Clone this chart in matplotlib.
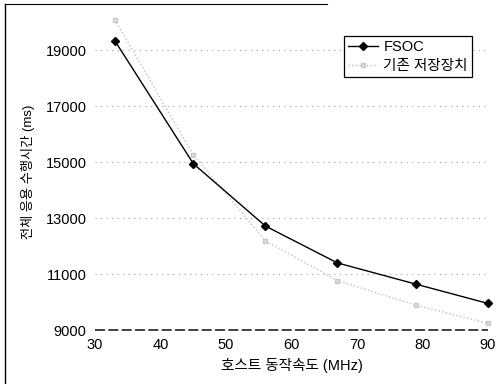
import matplotlib.pyplot as plt
from matplotlib.lines import Line2D

plt.rcParams['font.family'] = ['Liberation Sans', 'Noto Sans CJK KR', 'DejaVu Sans']

# 호스트 동작속도 (MHz)
speeds = [33, 45, 56, 67, 79, 90]
# 전체 응용 수행시간 (ms)
fsoc = [19350, 14950, 12720, 11400, 10640, 9950]
legacy = [20100, 15270, 12190, 10770, 9890, 9240]

yticks = [9000, 11000, 13000, 15000, 17000, 19000]
xticks = [30, 40, 50, 60, 70, 80, 90]

fig = plt.figure(figsize=(5.03, 3.84), dpi=100)
ax = fig.add_axes([0.189, 0.1406, 0.781, 0.823])

ax.plot(speeds, legacy, color='#c0c0c0', linestyle=':', linewidth=1.0,
        marker='s', markersize=3, markerfacecolor='#dcdcdc',
        markeredgecolor='#c8c8c8', label='기존 저장장치', zorder=2,
        clip_on=False)
ax.plot(speeds, fsoc, color='black', linewidth=1.0, marker='D',
        markersize=4.5, label='FSOC', zorder=3, clip_on=False)

ax.set_xlim(30, 90)
ax.set_ylim(9000, 20300)
ax.set_xticks(xticks)
ax.set_yticks(yticks)
ax.tick_params(length=0, labelsize=10.5, pad=6)

for y in yticks[1:]:
    ax.axhline(y, color='#a0a0a0', linestyle=(0, (1, 4)), linewidth=0.8, zorder=1)
ax.axhline(9000, color='#202020', linestyle=(0, (6, 2)), linewidth=1.2,
           zorder=1, clip_on=False)
ax.axvline(90, color='#a0a0a0', linestyle=(0, (1, 6)), linewidth=0.8, zorder=1)

for s in ax.spines.values():
    s.set_visible(False)

ax.set_xlabel('호스트 동작속도 (MHz)', fontsize=10.5, labelpad=4)
ax.set_ylabel('전체 응용 수행시간 (ms)', fontsize=9.5, labelpad=8)

handles, labels = ax.get_legend_handles_labels()
leg = ax.legend(handles[::-1], labels[::-1], loc='upper right',
                bbox_to_anchor=(0.96, 0.93), fontsize=10.5, frameon=True,
                fancybox=False, edgecolor='black', framealpha=1,
                handlelength=2.0, borderpad=0.3, labelspacing=0.3,
                handletextpad=0.4, borderaxespad=0)
leg.get_frame().set_linewidth(0.9)

# scanned page border (left and top)
fig.add_artist(Line2D([0.01, 0.01], [0.0, 0.99], color='black', linewidth=1.0))
fig.add_artist(Line2D([0.01, 0.65], [0.99, 0.99], color='black', linewidth=0.8))

fig.savefig('out.png', dpi=100)
